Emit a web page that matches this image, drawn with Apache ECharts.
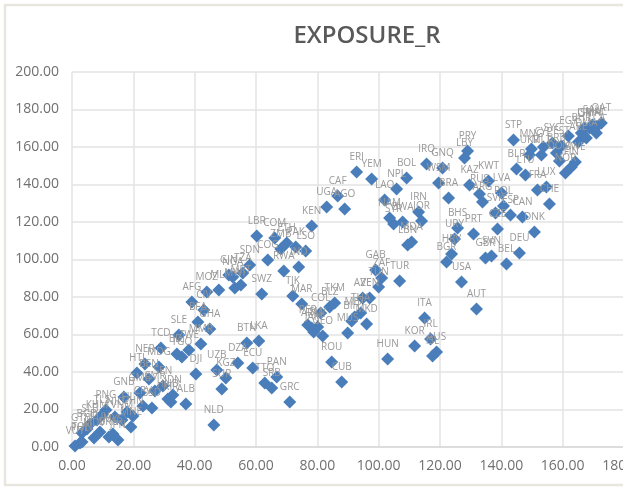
<!DOCTYPE html>
<html><head><meta charset="utf-8">
<style>html,body{margin:0;padding:0;background:#fff}#c{width:623px;height:487px}</style>
<script src="https://cdn.jsdelivr.net/npm/echarts@6/dist/echarts.min.js"></script>
</head><body><div id="c"></div>
<script>
const titleText = "EXPOSURE_R";
const names = ["VUT","PHL","TON","GTM","MDV","BGD","TUV","SLB","KHM","TLS","PNG","BRN","MYS","JPN","NIC","VNM","MNE","FJI","CHN","GNB","GMB","CPV","SSD","CMR","SEN","BEN","HTI","NER","MDG","TCD","BDI","TGO","ZWE","SLE","MMR","BFA","CIV","AFG","MOZ","GHA","DJI","HND","IDN","KIR","ALB","UZB","KGZ","SUR","DZA","ECU","BTN","LKA","NLD","PAN","TTO","SRB","GRC","SWZ","MLI","MWI","MRT","GIN","NGA","TZA","SDN","LBR","COG","COM","ZMB","ETH","PAK","LSO","RWA","IND","KEN","UGA","AGO","CAF","ERI","YEM","BOL","NPL","LAO","NAM","SYR","BWA","IRN","JOR","MDA","LBN","TJK","MAR","PER","ARM","JAM","SLV","GEO","ROU","CUB","COL","BLZ","TKM","MUS","MKD","BIH","MEX","THA","AZE","VEN","TUN","ZAF","GAB","TUR","HUN","KOR","ITA","IRL","AUS","ISL","AUT","USA","BGR","HRV","URY","BHS","PRT","GBR","SVN","BEL","DEU","CZE","DNK","CAN","ESP","SVK","POL","LVA","ARG","RUS","KAZ","KWT","WSM","BRA","GNQ","IRQ","PRY","LBY","STP","MNG","UKR","CYP","MLT","BLR","LTU","FRA","LUX","CHE","SYC","EST","BRB","DOM","NOR","FIN","SWE","ARE","EGY","BHR","DMA","OMN","LCA","SAU","MAC","QAT","ISR"];
const xValues = [0.98,2.61,3.26,3.26,7.17,4.89,9.12,5.86,8.14,9.77,11.07,12.05,13.35,14.98,14.0,16.28,19.22,17.91,19.87,16.94,22.15,23.12,26.06,27.03,29.64,25.08,21.17,23.78,28.34,28.99,34.2,35.83,38.11,34.85,42.02,41.04,42.99,39.08,43.97,44.95,40.39,31.27,32.9,32.24,37.13,47.23,50.16,48.86,54.07,58.95,57.0,60.91,46.25,66.77,62.86,65.14,71.0,61.88,47.88,53.09,55.04,51.13,52.44,55.69,57.97,60.25,63.84,66.12,68.07,70.03,72.96,76.21,69.05,73.93,78.17,83.05,88.92,86.64,92.82,97.71,109.11,105.85,101.94,103.57,104.87,107.81,113.02,113.99,110.74,109.44,71.98,74.91,76.87,78.17,78.82,80.12,81.75,84.68,87.94,81.1,84.03,85.66,89.89,96.08,91.2,92.17,94.13,94.78,97.06,99.99,100.97,99.01,106.83,102.92,111.72,114.97,116.93,118.88,117.58,131.91,127.02,122.14,123.77,124.75,125.72,130.93,134.84,136.79,141.68,145.91,138.75,150.8,146.89,142.98,138.1,140.7,140.05,133.86,132.89,129.63,135.82,119.53,122.79,120.83,115.62,128.98,128.0,143.96,149.82,149.17,153.73,153.08,144.94,147.87,151.78,154.71,155.69,156.66,159.59,157.96,158.94,160.9,162.85,164.15,165.13,161.87,166.11,167.74,168.72,170.99,169.69,170.99,172.62,167.08];
const yValues = [0.53,2.13,2.67,7.47,4.8,9.6,8.0,12.27,14.4,17.07,19.73,5.33,6.93,3.73,16.0,14.4,10.67,18.67,16.53,26.67,28.8,21.87,20.8,29.87,32.53,36.27,39.47,44.27,42.67,52.8,49.6,48.0,51.73,59.73,54.93,66.67,73.07,77.33,82.67,62.93,38.93,25.6,27.73,24.0,22.93,41.07,36.8,30.93,44.8,42.13,55.47,56.53,11.73,37.33,34.13,31.47,24.0,81.6,83.73,84.8,86.4,91.73,90.67,92.8,97.07,112.53,99.73,111.47,105.6,108.8,106.67,104.53,93.87,96.0,117.87,128.0,126.93,133.87,146.67,142.93,143.47,137.6,131.73,122.13,118.93,120.0,125.33,120.53,109.33,107.73,80.53,76.27,65.07,63.47,61.33,64.0,59.2,45.33,34.67,71.47,74.67,76.8,60.8,65.6,67.2,69.33,71.47,79.47,79.47,85.33,90.13,94.4,88.53,46.93,53.87,68.8,57.6,50.67,48.53,73.6,88.0,98.67,102.93,110.93,116.8,113.6,100.8,101.87,97.6,103.47,116.27,114.67,122.67,123.73,124.8,128.53,135.47,130.67,134.93,139.73,141.87,140.8,132.8,148.8,150.93,157.87,154.13,163.73,158.93,155.73,160.0,155.73,148.27,145.07,137.07,138.67,129.6,162.13,160.53,156.8,152.53,146.13,149.33,152.0,162.67,165.87,167.47,164.8,170.13,167.47,171.73,170.67,172.8,170.13];
const points = names.map((n,i)=>({name:n,value:[xValues[i],yValues[i]]}));

const chart = echarts.init(document.getElementById('c'),null,{renderer:'canvas'});
chart.setOption({
  animation:false,
  backgroundColor:'#fff',
  title:{text:titleText,left:362,top:19,textAlign:'center',
    textStyle:{fontFamily:'"Open Sans"',fontWeight:600,fontSize:24,color:'#595959',letterSpacing:2.6}},
  grid:{left:72,right:-1,top:72,bottom:40,outerBoundsMode:'none'},
  xAxis:{type:'value',min:0,max:180,interval:20,
    axisLine:{show:true,onZero:false,lineStyle:{color:'#d9d9d9',width:1.5}},
    axisTick:{show:false},
    splitLine:{show:true,lineStyle:{color:'#e3e3e3',width:1.5}},
    axisLabel:{formatter:v=>v.toFixed(2),color:'#707070',fontFamily:'"Open Sans"',fontSize:14,margin:12,letterSpacing:2.4,hideOverlap:false,showMaxLabel:true,alignMaxLabel:'center'}},
  yAxis:{type:'value',min:0,max:200,interval:20,
    axisLine:{show:false},axisTick:{show:false},
    splitLine:{show:true,lineStyle:{color:'#e3e3e3',width:1.5}},
    axisLabel:{formatter:v=>v.toFixed(2),color:'#707070',fontFamily:'"Open Sans"',fontSize:14,margin:13}},
  graphic:[{type:'rect',silent:true,z:100,shape:{x:5,y:5,width:640,height:480},style:{fill:'none',stroke:'#e8e6df',lineWidth:2.5}}],
  series:[{type:'scatter',symbol:'diamond',symbolSize:13,clip:false,data:points,
    itemStyle:{color:'#4a7ebb',opacity:1},
    label:{show:true,position:'top',distance:3,formatter:p=>p.name,color:'#999',fontFamily:'"Open Sans"',fontSize:10},
    labelLayout:{hideOverlap:false}}]
});
</script></body></html>
